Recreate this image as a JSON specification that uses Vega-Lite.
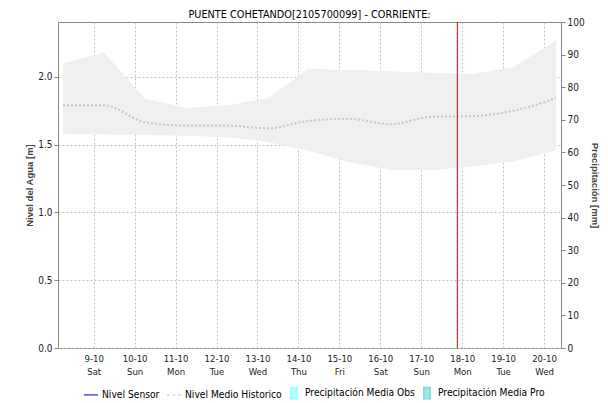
{
  "$schema": "https://vega.github.io/schema/vega-lite/v6.json",
  "width": 503,
  "height": 326,
  "autosize": {"type": "none"},
  "padding": {"left": 58, "top": 22, "right": 47, "bottom": 55},
  "title": {"text": "PUENTE COHETANDO[2105700099] - CORRIENTE:", "fontSize": 10.8, "fontWeight": "normal", "font": "DejaVu Sans Condensed, Liberation Sans", "color": "#000", "offset": -3, "anchor": "middle"},
  "datasets": {
    "nivel": [
      {"t": "2021-10-08T06:00:00", "up": 2.10, "lo": 1.58, "mean": 1.79},
      {"t": "2021-10-09T06:00:00", "up": 2.18, "lo": 1.575, "mean": 1.79},
      {"t": "2021-10-10T06:00:00", "up": 1.84, "lo": 1.57, "mean": 1.665},
      {"t": "2021-10-11T06:00:00", "up": 1.77, "lo": 1.565, "mean": 1.64},
      {"t": "2021-10-12T06:00:00", "up": 1.79, "lo": 1.555, "mean": 1.64},
      {"t": "2021-10-13T06:00:00", "up": 1.84, "lo": 1.52, "mean": 1.62},
      {"t": "2021-10-14T06:00:00", "up": 2.06, "lo": 1.455, "mean": 1.675},
      {"t": "2021-10-15T06:00:00", "up": 2.05, "lo": 1.37, "mean": 1.69},
      {"t": "2021-10-16T06:00:00", "up": 2.04, "lo": 1.315, "mean": 1.65},
      {"t": "2021-10-17T06:00:00", "up": 2.03, "lo": 1.31, "mean": 1.705},
      {"t": "2021-10-18T06:00:00", "up": 2.02, "lo": 1.34, "mean": 1.71},
      {"t": "2021-10-19T06:00:00", "up": 2.07, "lo": 1.375, "mean": 1.75},
      {"t": "2021-10-20T06:00:00", "up": 2.26, "lo": 1.455, "mean": 1.84},
      {"t": "2021-10-20T07:00:00", "up": 2.28, "lo": 1.46, "mean": 1.845}
    ],
    "ahora": [{"t": "2021-10-17T21:10:00"}],
    "series": [
      {"t": "2021-10-10T00:00:00", "serie": "Nivel Sensor", "v": null},
      {"t": "2021-10-10T00:00:00", "serie": "Nivel Medio Historico", "v": null},
      {"t": "2021-10-10T00:00:00", "serie": "Precipitación Media Obs", "v": null},
      {"t": "2021-10-10T00:00:00", "serie": "Precipitación Media Pro", "v": null}
    ],
    "precip": [
      {"t": "2021-10-09T00:00:00", "p": 0},
      {"t": "2021-10-15T00:00:00", "p": 0}
    ]
  },
  "layer": [
    {
      "layer": [
        {
          "data": {"name": "nivel"},
          "mark": {"type": "area", "color": "#f0f0f0", "opacity": 1},
          "encoding": {
            "x": {"field": "t", "type": "temporal",
              "scale": {"domain": [{"year": 2021, "month": 10, "date": 8, "hours": 6}, {"year": 2021, "month": 10, "date": 20, "hours": 7}]},
              "axis": {"title": null, "tickCount": {"interval": "day", "step": 1}, "grid": true, "ticks": false, "domain": false, "labelPadding": 5, "labelLineHeight": 13, "labelFontSize": 9.5,
                "labelExpr": "[timeFormat(datum.value, '%-d-%m'), timeFormat(datum.value, '%a')]"}},
            "y": {"field": "up", "type": "quantitative", "title": "Nivel del Agua [m]",
              "scale": {"domain": [0, 2.404], "nice": false, "zero": false},
              "axis": {"values": [0, 0.5, 1, 1.5, 2], "format": ".1f", "grid": true, "tickSize": 4, "labelPadding": 2, "titlePadding": 3}},
            "y2": {"field": "lo"}
          }
        },
        {
          "data": {"name": "nivel"},
          "mark": {"type": "line", "color": "#c8c8c8", "strokeWidth": 2, "strokeDash": [2, 2], "interpolate": "monotone"},
          "encoding": {
            "x": {"field": "t", "type": "temporal"},
            "y": {"field": "mean", "type": "quantitative", "title": "Nivel del Agua [m]"}
          }
        },
        {
          "data": {"name": "ahora"},
          "mark": {"type": "rule", "color": "#e00000", "strokeWidth": 1},
          "encoding": {
            "x": {"field": "t", "type": "temporal"}
          }
        },
        {
          "data": {"name": "series"},
          "mark": {"type": "point", "filled": false},
          "encoding": {
            "x": {"field": "t", "type": "temporal"},
            "y": {"field": "v", "type": "quantitative", "title": "Nivel del Agua [m]"},
            "stroke": {"field": "serie", "type": "nominal",
              "scale": {"domain": ["Nivel Sensor", "Nivel Medio Historico", "Precipitación Media Obs", "Precipitación Media Pro"],
                "range": ["#0000ff", "#c8c8c8", "#66ffff", "#44cccc"]},
              "legend": {"title": null, "orient": "none", "legendX": 25, "legendY": 363, "direction": "horizontal", "labelFontSize": 10.2, "labelColor": "#000", "labelFont": "DejaVu Sans Condensed, Liberation Sans", "symbolStrokeWidth": 1.5, "symbolSize": 196, "columnPadding": 4, "labelOffset": 3}},
            "fill": {"field": "serie", "type": "nominal",
              "scale": {"domain": ["Nivel Sensor", "Nivel Medio Historico", "Precipitación Media Obs", "Precipitación Media Pro"],
                "range": ["transparent", "transparent", "#66ffff", "#44cccc"]},
              "legend": {"title": null, "orient": "none", "legendX": 25, "legendY": 363, "direction": "horizontal"}},
            "shape": {"field": "serie", "type": "nominal",
              "scale": {"domain": ["Nivel Sensor", "Nivel Medio Historico", "Precipitación Media Obs", "Precipitación Media Pro"],
                "range": ["M-1,0H1", "M-1,0H-0.55M-0.2,0H0.2M0.55,0H1", "M-0.45,-0.8H0.45V0.8H-0.45Z", "M-0.45,-0.8H0.45V0.8H-0.45Z"]},
              "legend": {"title": null, "orient": "none", "legendX": 25, "legendY": 363, "direction": "horizontal"}}
          }
        }
      ]
    },
    {
      "data": {"name": "precip"},
      "mark": {"type": "bar", "color": "#44cccc"},
      "encoding": {
        "x": {"field": "t", "type": "temporal"},
        "y": {"field": "p", "type": "quantitative", "title": "Precipitación [mm]",
          "scale": {"domain": [0, 100], "nice": false},
          "axis": {"orient": "right", "values": [0, 10, 20, 30, 40, 50, 60, 70, 80, 90, 100], "grid": false, "tickSize": 4, "labelPadding": 2, "titlePadding": 5}}
      }
    }
  ],
  "resolve": {"scale": {"y": "independent"}, "axis": {"y": "independent"}},
  "config": {
    "font": "DejaVu Sans Condensed",
    "view": {"stroke": "#888"},
    "axis": {"labelFont": "DejaVu Sans Condensed, Liberation Sans", "labelFontSize": 10, "labelColor": "#222", "titleFont": "Liberation Sans", "titleFontSize": 9.5, "titleFontWeight": "bold", "titleColor": "#444", "domainColor": "#888", "tickColor": "#888", "gridColor": "#c4c4c4", "gridDash": [2, 2]}
  }
}
